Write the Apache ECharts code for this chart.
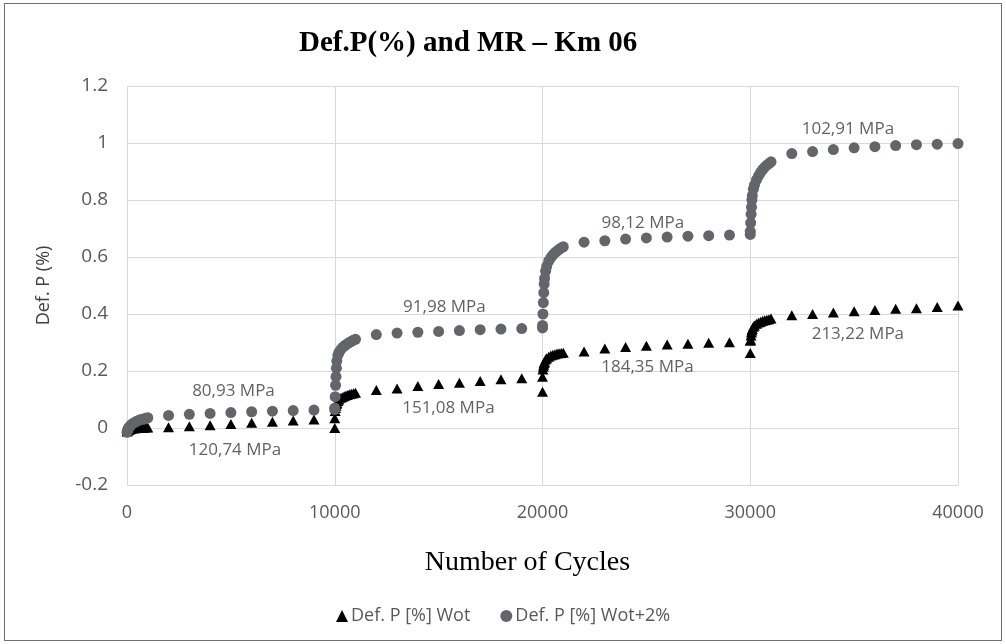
<!DOCTYPE html>
<html>
<head>
<meta charset="utf-8">
<script src="https://cdn.jsdelivr.net/npm/echarts@6/dist/echarts.min.js"></script>
<style>
  html, body { margin: 0; padding: 0; background: #fff; }
  #chart { position: absolute; left: 0; top: 0; width: 1006px; height: 644px; }
  #frame { position: absolute; left: 4px; top: 3px; width: 996px; height: 636px; border: 1.5px solid #6f6f6f; pointer-events: none; }
</style>
</head>
<body>
<div id="chart"></div>
<div id="frame"></div>
<script>
// Number of cycles at each reading (four loading stages)
const cycles = [
  1, 20, 40, 60, 80, 100, 150, 200, 300, 400, 500, 600, 700, 800, 900, 1000, 2000, 3000, 4000, 5000, 6000, 7000, 8000, 9000, 10000,
  10001, 10020, 10040, 10060, 10080, 10100, 10150, 10200, 10300, 10400, 10500, 10600, 10700, 10800, 10900, 11000, 12000, 13000, 14000, 15000, 16000, 17000, 18000, 19000, 20000,
  20001, 20020, 20040, 20060, 20080, 20100, 20150, 20200, 20300, 20400, 20500, 20600, 20700, 20800, 20900, 21000, 22000, 23000, 24000, 25000, 26000, 27000, 28000, 29000, 30000,
  30001, 30020, 30040, 30060, 30080, 30100, 30150, 30200, 30300, 30400, 30500, 30600, 30700, 30800, 30900, 31000, 32000, 33000, 34000, 35000, 36000, 37000, 38000, 39000, 40000
];
// Def. P [%] Wot
const defWot = [
  -0.012, -0.01, -0.008, -0.007, -0.006, -0.005, -0.004, -0.003, -0.002, -0.001, 0.0, 0.0, 0.001, 0.001, 0.002, 0.002, 0.003, 0.006, 0.01, 0.014, 0.018, 0.022, 0.026, 0.03, 0.034,
  0.0, 0.06, 0.07, 0.078, 0.084, 0.088, 0.095, 0.1, 0.106, 0.11, 0.113, 0.116, 0.118, 0.12, 0.122, 0.124, 0.133, 0.139, 0.147, 0.154, 0.159, 0.165, 0.171, 0.175, 0.18,
  0.127, 0.205, 0.215, 0.222, 0.228, 0.232, 0.24, 0.245, 0.25, 0.254, 0.257, 0.259, 0.261, 0.262, 0.263, 0.264, 0.268, 0.279, 0.284, 0.289, 0.293, 0.296, 0.299, 0.301, 0.306,
  0.263, 0.31, 0.325, 0.335, 0.342, 0.347, 0.355, 0.36, 0.366, 0.37, 0.373, 0.376, 0.378, 0.38, 0.382, 0.384, 0.396, 0.4, 0.405, 0.41, 0.414, 0.418, 0.42, 0.425, 0.43
];
// Def. P [%] Wot+2%
const defWot2 = [
  -0.015, -0.01, -0.006, -0.003, 0.0, 0.002, 0.007, 0.011, 0.017, 0.021, 0.025, 0.028, 0.03, 0.032, 0.034, 0.036, 0.044, 0.048, 0.051, 0.054, 0.057, 0.059, 0.061, 0.063, 0.065,
  0.07, 0.11, 0.15, 0.18, 0.21, 0.235, 0.255, 0.265, 0.276, 0.284, 0.29, 0.295, 0.3, 0.304, 0.308, 0.311, 0.328, 0.333, 0.336, 0.339, 0.342, 0.345, 0.347, 0.349, 0.351,
  0.36, 0.4, 0.44, 0.475, 0.505, 0.525, 0.55, 0.567, 0.586, 0.598, 0.607, 0.615, 0.621, 0.627, 0.632, 0.636, 0.652, 0.657, 0.663, 0.667, 0.67, 0.673, 0.675, 0.677, 0.679,
  0.69, 0.72, 0.75, 0.775, 0.8, 0.815, 0.838, 0.852, 0.871, 0.885, 0.897, 0.907, 0.915, 0.922, 0.928, 0.934, 0.963, 0.97, 0.977, 0.983, 0.987, 0.991, 0.994, 0.996, 0.998
];
// Resilient modulus annotations (placed in data units)
const mrText   = ['80,93 MPa', '120,74 MPa', '91,98 MPa', '151,08 MPa', '98,12 MPa', '184,35 MPa', '102,91 MPa', '213,22 MPa'];
const mrCycles = [5125, 5200, 15280, 15470, 24830, 25050, 34700, 35180];
const mrDef    = [0.128, -0.077, 0.423, 0.068, 0.719, 0.215, 1.049, 0.33];

const seriesNames = ['Def. P [%] Wot', 'Def. P [%] Wot+2%'];

const ptsWot = cycles.map((c, i) => [c, defWot[i]]);
const ptsWot2 = cycles.map((c, i) => [c, defWot2[i]]);
const ptsLab = mrText.map((t, i) => ({ value: [mrCycles[i], mrDef[i]], name: t }));

const sans = '"Open Sans", "Noto Sans", sans-serif';
const serif = '"Liberation Serif", "DejaVu Serif", serif';

const chart = echarts.init(document.getElementById('chart'), null, { renderer: 'canvas' });
chart.setOption({
  animation: false,
  backgroundColor: '#ffffff',
  title: {
    text: 'Def.P(%) and MR – Km 06',
    left: 294,
    top: 24,
    textStyle: { fontFamily: serif, fontWeight: 'bold', fontSize: 29, color: '#000' }
  },
  grid: { left: 127, right: 48, top: 86, bottom: 159, containLabel: false },
  xAxis: {
    type: 'value',
    min: 0, max: 40000, interval: 10000,
    name: 'Number of Cycles',
    nameLocation: 'middle',
    nameGap: 64,
    nameTextStyle: { fontFamily: serif, fontSize: 28, color: '#000', padding: [0, 30, 0, 0] },
    axisLine: { show: false },
    axisTick: { show: false },
    axisLabel: { fontFamily: sans, fontSize: 18, color: '#595959', margin: 19, formatter: v => String(v) },
    splitLine: { show: true, lineStyle: { color: '#d9d9d9', width: 1 } }
  },
  yAxis: {
    type: 'value',
    min: -0.2, max: 1.2, interval: 0.2,
    name: 'Def. P (%)',
    nameLocation: 'middle',
    nameGap: 74,
    nameTextStyle: { fontFamily: sans, fontSize: 18, color: '#404040' },
    axisLine: { show: false },
    axisTick: { show: false },
    axisLabel: {
      fontFamily: sans, fontSize: 19, color: '#595959', margin: 19,
      formatter: v => String(Math.round(v * 10) / 10)
    },
    splitLine: { show: true, lineStyle: { color: '#d9d9d9', width: 1 } }
  },
  legend: {
    data: [
      { name: seriesNames[0], icon: 'triangle' },
      { name: seriesNames[1], icon: 'circle' }
    ],
    left: 331,
    top: 602,
    itemWidth: 12,
    itemHeight: 12,
    itemGap: 30,
    textStyle: { fontFamily: sans, fontSize: 18, color: '#595959', padding: [0, 0, 0, -2] }
  },
  series: [
    {
      name: seriesNames[0],
      type: 'scatter',
      symbol: 'triangle',
      symbolSize: [11, 10],
      itemStyle: { color: '#000000', opacity: 1 },
      data: ptsWot,
      z: 2
    },
    {
      name: seriesNames[1],
      type: 'scatter',
      symbol: 'circle',
      symbolSize: 11,
      itemStyle: { color: '#62666a', opacity: 1 },
      data: ptsWot2,
      z: 3
    },
    {
      name: 'MR',
      type: 'scatter',
      symbolSize: 0,
      silent: true,
      data: ptsLab,
      z: 4,
      label: {
        show: true,
        position: 'inside',
        formatter: p => p.name,
        fontFamily: sans,
        fontSize: 17,
        color: '#3a3a3a'
      }
    }
  ]
});
</script>
</body>
</html>
